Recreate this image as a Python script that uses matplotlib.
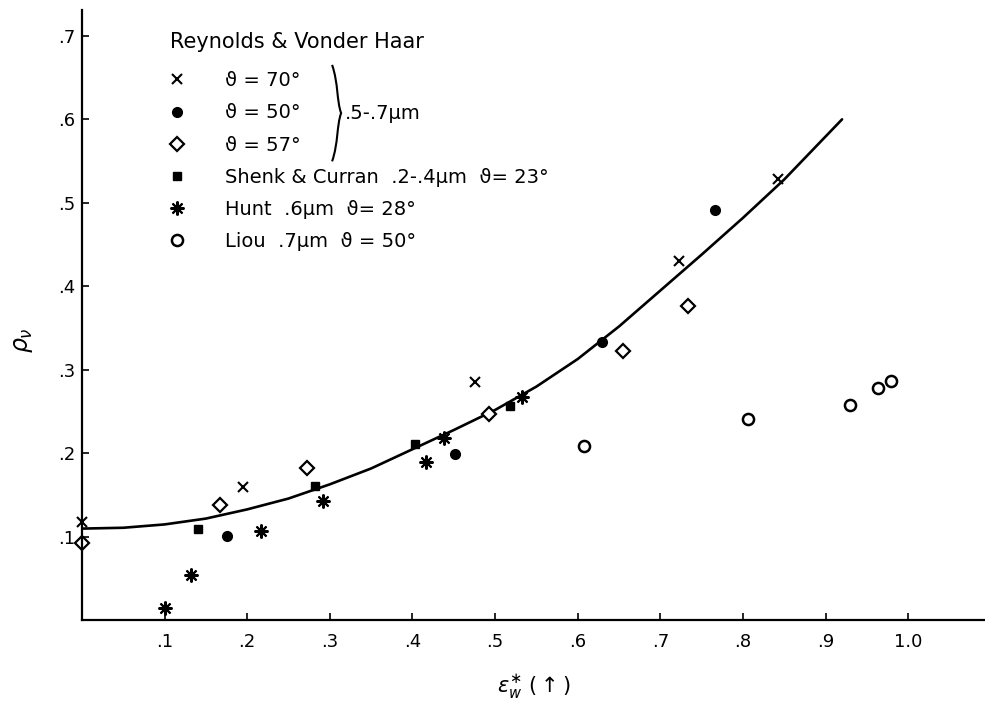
import matplotlib
matplotlib.use('Agg')
import matplotlib.pyplot as plt
from matplotlib.path import Path
from matplotlib.patches import PathPatch

plt.rcParams['font.family'] = ['DejaVu Sans']

# Reynolds & Vonder Haar, theta = 70
rv70_x = [0.0, 0.195, 0.476, 0.723, 0.843]
rv70_y = [0.118, 0.160, 0.286, 0.431, 0.528]
# Reynolds & Vonder Haar, theta = 50
rv50_x = [0.175, 0.451, 0.630, 0.766]
rv50_y = [0.101, 0.199, 0.333, 0.491]
# Reynolds & Vonder Haar, theta = 57
rv57_x = [0.0, 0.167, 0.272, 0.493, 0.655, 0.733]
rv57_y = [0.093, 0.138, 0.183, 0.247, 0.323, 0.377]
# Shenk & Curran
shenk_x = [0.140, 0.282, 0.403, 0.518]
shenk_y = [0.109, 0.161, 0.211, 0.257]
# Hunt
hunt_x = [0.100, 0.132, 0.217, 0.292, 0.416, 0.438, 0.533]
hunt_y = [0.015, 0.055, 0.107, 0.143, 0.190, 0.218, 0.267]
# Liou
liou_x = [0.608, 0.806, 0.929, 0.963, 0.979]
liou_y = [0.209, 0.241, 0.258, 0.278, 0.287]

# hand drawn fit curve
curve_x = [0.0, 0.05, 0.10, 0.15, 0.20, 0.25, 0.30, 0.35, 0.40, 0.45,
           0.50, 0.55, 0.60, 0.65, 0.70, 0.75, 0.80, 0.85, 0.92]
curve_y = [0.110, 0.111, 0.115, 0.122, 0.133, 0.146, 0.163, 0.182, 0.205, 0.228,
           0.252, 0.280, 0.313, 0.352, 0.395, 0.438, 0.482, 0.528, 0.600]

xticks = [0.1, 0.2, 0.3, 0.4, 0.5, 0.6, 0.7, 0.8, 0.9, 1.0]
xtick_labels = ['.1', '.2', '.3', '.4', '.5', '.6', '.7', '.8', '.9', '1.0']
yticks = [0.1, 0.2, 0.3, 0.4, 0.5, 0.6, 0.7]
ytick_labels = ['.1', '.2', '.3', '.4', '.5', '.6', '.7']

fig = plt.figure(figsize=(9.85, 7.05), dpi=100)
ax = fig.add_axes([0.0832, 0.1199, 0.9168, 0.866])

ax.plot(curve_x, curve_y, color='black', lw=1.9, solid_capstyle='round', solid_joinstyle='round')

ax.plot(rv70_x, rv70_y, ls='none', marker='x', ms=7.5, mew=1.5, color='black',
        clip_on=False, label='ϑ = 70°')
ax.plot(rv50_x, rv50_y, ls='none', marker='o', ms=7, color='black',
        clip_on=False, label='ϑ = 50°')
ax.plot(rv57_x, rv57_y, ls='none', marker='D', ms=7, mew=1.6, mfc='white', color='black',
        clip_on=False, label='ϑ = 57°')
ax.plot(shenk_x, shenk_y, ls='none', marker='s', ms=6, color='black',
        clip_on=False, label='Shenk & Curran  .2-.4μm  ϑ= 23°')
ax.plot(hunt_x, hunt_y, ls='none', marker=(8, 2, 0), ms=10, mew=1.5, color='black',
        clip_on=False, label='Hunt  .6μm  ϑ= 28°')
ax.plot(liou_x, liou_y, ls='none', marker='o', ms=8, mew=1.8, mfc='white', color='black',
        clip_on=False, label='Liou  .7μm  ϑ = 50°')

ax.set_xlim(0, 1.093)
ax.set_ylim(0, 0.731)
ax.spines['top'].set_visible(False)
ax.spines['right'].set_visible(False)
ax.spines['left'].set_linewidth(1.6)
ax.spines['bottom'].set_linewidth(1.6)

ax.set_xticks(xticks)
ax.set_xticklabels(xtick_labels)
ax.set_yticks(yticks)
ax.set_yticklabels(ytick_labels)
ax.tick_params(direction='in', length=5, width=1.2, labelsize=13)
ax.tick_params(axis='x', pad=9)
ax.tick_params(axis='y', pad=5)

ax.set_xlabel(r'$\epsilon_w^{\ast}$ $(\uparrow)$', fontsize=15)
ax.xaxis.set_label_coords(0.5, -0.086)
ax.set_ylabel(r'$\rho_{\nu}$', fontsize=17, rotation=90)
ax.yaxis.set_label_coords(-0.052, 0.46)

ax.text(0.0975, 0.9476, 'Reynolds & Vonder Haar', transform=ax.transAxes,
        fontsize=15, va='center', ha='left')
leg = ax.legend(loc='upper left', bbox_to_anchor=(0.094, 0.8997), frameon=False,
                fontsize=14, handlelength=1.0, handletextpad=2.0,
                labelspacing=0.68, borderpad=0, borderaxespad=0)

# brace grouping the three Reynolds & Vonder Haar rows
bx, btop, bmid, bbot = 0.277, 0.91, 0.831, 0.752
verts = [(bx, btop), (bx + 0.007, btop - 0.03), (bx + 0.005, bmid + 0.02), (bx + 0.010, bmid),
         (bx + 0.005, bmid - 0.02), (bx + 0.007, bbot + 0.03), (bx, bbot)]
codes = [Path.MOVETO, Path.CURVE4, Path.CURVE4, Path.CURVE4,
         Path.CURVE4, Path.CURVE4, Path.CURVE4]
ax.add_patch(PathPatch(Path(verts, codes), transform=ax.transAxes,
                       fill=False, lw=1.5, color='black', clip_on=False))
ax.text(0.291, 0.831, '.5-.7μm', transform=ax.transAxes, fontsize=14, va='center', ha='left')

fig.savefig('out.png', dpi=100)
